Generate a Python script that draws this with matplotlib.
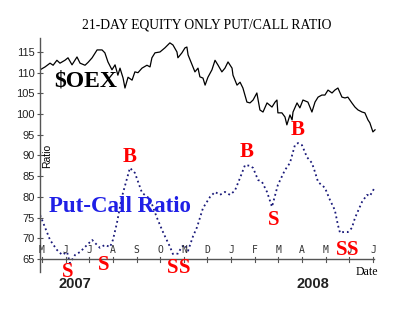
import matplotlib
matplotlib.use("Agg")
import matplotlib.pyplot as plt

# months from May 2007 (0) to July 2008 (14)
mois = ["M", "J", "J", "A", "S", "O", "N", "D", "J", "F", "M", "A", "M", "J", "J"]
yticks = [65, 70, 75, 80, 85, 90, 95, 100, 105, 110, 115]

pcr_t = [-0.08, 0.34, 0.63, 0.85, 1.06, 1.18, 1.40, 1.61, 1.82, 2.12, 2.24, 2.45,
         2.66, 2.88, 3.00, 3.17, 3.38, 3.72, 3.93, 4.23, 4.57, 4.86, 5.08, 5.20,
         5.41, 5.54, 5.75, 5.92, 6.05, 6.18, 6.39, 6.56, 6.81, 7.11, 7.32, 7.53,
         7.74, 7.95, 8.16, 8.38, 8.59, 8.80, 8.93, 9.14, 9.31, 9.52, 9.73, 9.98,
         10.28, 10.49, 10.70, 10.83, 11.00, 11.21, 11.42, 11.55, 11.68, 11.97,
         12.18, 12.39, 12.52, 12.61, 12.73, 12.94, 13.11, 13.24, 13.54, 13.75,
         13.87, 14.09]
pcr = [75.6, 69.6, 67.2, 66.0, 66.7, 64.0, 66.0, 66.7, 67.9, 69.6, 68.9, 67.7,
       68.4, 67.9, 69.6, 73.7, 80.0, 87.0, 85.8, 81.0, 79.5, 75.0, 72.0, 70.5,
       68.0, 66.2, 66.3, 68.0, 68.4, 67.0, 70.5, 72.7, 77.3, 80.0, 81.2, 80.5,
       81.2, 80.5, 81.5, 84.6, 87.7, 87.5, 87.0, 84.1, 83.6, 81.2, 77.6, 82.9,
       86.5, 88.2, 92.5, 93.0, 92.5, 89.6, 88.2, 86.0, 83.6, 82.2,
       79.3, 76.8, 73.2, 71.3, 71.5, 71.5, 72.5, 74.9, 78.8, 80.5,
       80.2, 82.4]

oex_t = [-0.08, 0.13, 0.34, 0.47, 0.63, 0.76, 0.97, 1.10, 1.27, 1.48, 1.61, 1.82,
         1.95, 2.12, 2.33, 2.54, 2.66, 2.79, 2.96, 3.09, 3.21, 3.30, 3.43, 3.51,
         3.64, 3.81, 3.93, 4.06, 4.23, 4.44, 4.57, 4.65, 4.78, 4.99, 5.20, 5.41,
         5.54, 5.71, 5.75, 5.92, 6.05, 6.13, 6.18, 6.35, 6.47, 6.60, 6.68, 6.81,
         6.90, 7.02, 7.19, 7.32, 7.45, 7.61, 7.74, 7.87, 8.04, 8.08, 8.25, 8.38,
         8.50, 8.67, 8.80, 8.93, 9.09, 9.22, 9.35, 9.52, 9.73, 9.86, 9.94, 9.98,
         10.15, 10.28, 10.36, 10.49, 10.58, 10.62, 10.79, 10.91, 11.04, 11.25,
         11.42, 11.55, 11.68, 11.84, 11.97, 12.10, 12.27, 12.39, 12.52, 12.69,
         12.82, 12.94, 13.11, 13.24, 13.37, 13.54, 13.66, 13.79, 13.87, 14.00, 14.09]
oex = [110.7, 111.4, 112.3, 111.8, 113.0, 112.3, 113.0, 113.6, 111.9, 113.8, 112.3, 111.8,
       112.5, 113.6, 115.5, 115.5, 114.8, 112.6, 110.7, 111.9, 109.4, 111.1, 108.7, 106.3,
       108.9, 108.2, 110.2, 110.0, 111.1, 111.8, 111.4, 113.6, 114.8, 115.0, 116.0, 117.2,
       116.7, 115.0, 113.6, 114.8, 116.0, 116.2, 114.3, 111.9, 110.2, 111.1, 109.0, 108.7,
       107.0, 108.9, 110.7, 113.0, 111.8, 110.2, 111.1, 112.6, 111.1, 109.4, 107.0, 107.7,
       106.3, 102.9, 102.7, 103.4, 105.1, 101.0, 100.5, 102.7, 101.7, 102.9, 103.4, 100.3,
       100.3, 99.3, 97.4, 99.8, 98.6, 100.5, 102.7, 101.5, 103.4, 102.9,
       100.5, 102.9, 104.1, 104.6, 104.6, 105.8, 105.1, 105.8, 106.3, 104.1,
       103.9, 104.1, 102.7, 101.7, 101.0, 100.5, 100.3, 98.6, 97.9, 95.7, 96.2]

# signaux achat / vente
sig_txt = ["B", "S", "S", "S", "S", "B", "S", "B", "S", "S"]
sig_t = [3.72, 1.10, 2.62, 5.52, 6.02, 8.67, 9.81, 10.83, 12.67, 13.15]
sig_v = [89.6, 61.9, 63.6, 62.8, 62.8, 90.8, 74.4, 96.2, 67.2, 67.2]

fig = plt.figure(figsize=(4.14, 3.11), dpi=100)
ax = fig.add_axes([40 / 414, 39 / 311, 340 / 414, 234 / 311])
ax.set_xlim(-0.085, 14.3)
ax.set_ylim(61.86, 118.38)

ax.plot(oex_t, oex, color="black", linewidth=0.9)
ax.plot(pcr_t, pcr, color="#1a1a7a", linewidth=1.3, linestyle=":")

# axe des dates
ax.axhline(65, xmin=0, xmax=(14.05 + 0.085) / 14.385, color="#555555", linewidth=1.0)
for i, m in enumerate(mois):
    ax.plot([i, i], [64.2, 65.6], color="#555555", linewidth=0.8)
    ax.text(i, 67.2, m, ha="center", va="center", fontsize=7,
            family="DejaVu Sans Mono", color="#333333")

for s, t, v in zip(sig_txt, sig_t, sig_v):
    ax.text(t, v, s, ha="center", va="center", color="red", fontsize=15,
            fontweight="bold", family="Liberation Serif")

ax.text(1.86, 108.0, "$OEX", ha="center", va="center", fontsize=17,
        fontweight="bold", family="Liberation Serif", color="black")
ax.text(3.30, 77.6, "Put-Call Ratio", ha="center", va="center", fontsize=16.5,
        fontweight="bold", family="Liberation Serif", color="#1f1fe6")

ax.set_yticks(yticks)
ax.set_yticklabels([str(y) for y in yticks], fontsize=8, family="Liberation Sans",
                   color="#222222")
ax.tick_params(axis="y", direction="inout", length=4, width=0.8, color="#555555", pad=2)
ax.set_xticks([])
for side in ["top", "right", "bottom"]:
    ax.spines[side].set_visible(False)
ax.spines["left"].set_color("#555555")
ax.spines["left"].set_linewidth(1.0)

fig.text(207 / 414, 1 - 25 / 311, "21-DAY EQUITY ONLY PUT/CALL RATIO", ha="center",
         va="center", fontsize=9.8, family="Liberation Serif")
fig.text(47 / 414, 1 - 156 / 311, "Ratio", rotation=90, ha="center", va="center",
         fontsize=7.5, family="Liberation Sans")
fig.text(75 / 414, 1 - 284 / 311, "2007", ha="center", va="center", fontsize=10.5,
         fontweight="bold", family="Liberation Sans", color="#222222")
fig.text(313 / 414, 1 - 284 / 311, "2008", ha="center", va="center", fontsize=10.5,
         fontweight="bold", family="Liberation Sans", color="#222222")
fig.text(367 / 414, 1 - 272 / 311, "Date", ha="center", va="center", fontsize=8.5,
         family="Liberation Serif")

fig.savefig("out.png", dpi=100)
